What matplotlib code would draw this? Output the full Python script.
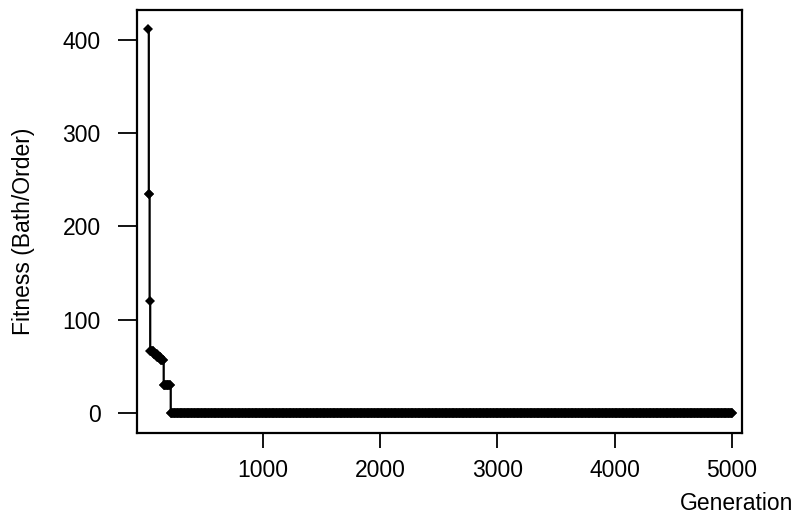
import numpy as np
import matplotlib

matplotlib.use("Agg")
import matplotlib.pyplot as plt

plt.rcParams["font.family"] = ["Liberation Sans", "DejaVu Sans"]

# best fitness: generation at which each level starts, and the level
change_gen = [25, 28, 35, 40, 70, 100, 130, 155, 215]
change_fit = [412, 235, 120, 66, 63, 60, 57, 30, 0]
last_gen = 5000
sample_every = 5

x_ticks = [1000, 2000, 3000, 4000, 5000]
y_ticks = [0, 100, 200, 300, 400]

# expand step levels to the recorded generations
gens, fits = [], []
ends = change_gen[1:] + [last_gen + 1]
for g0, g1, f in zip(change_gen, ends, change_fit):
    g = np.arange(g0, g1, sample_every)
    gens.extend(g)
    fits.extend([f] * len(g))
gens.append(last_gen)
fits.append(change_fit[-1])

fig = plt.figure(figsize=(8.01, 5.18), dpi=100)
ax = fig.add_axes([0.1707, 0.1635, 0.7553, 0.8172])
ax.plot(gens, fits, color="black", lw=1.6, drawstyle="steps-post")
ax.plot(gens, fits, "D", color="black", ms=4.6, mew=0)

ax.set_xlim(-75, 5085)
ax.set_ylim(-21.8, 432)
ax.set_xticks(x_ticks)
ax.set_yticks(y_ticks)
ax.tick_params(axis="x", length=10.5, width=1.3, labelsize=16.5, pad=8)
ax.tick_params(axis="y", length=14, width=1.3, labelsize=16.5, pad=12)
for s in ax.spines.values():
    s.set_linewidth(1.6)

fig.text(24 / 801, 1 - 231 / 518, "Fitness (Bath/Order)", rotation=90,
         ha="center", va="center", fontsize=16.5)
fig.text(793 / 801, 1 - 503 / 518, "Generation", ha="right", va="center",
         fontsize=16.5)

fig.savefig("out.png", dpi=100)
